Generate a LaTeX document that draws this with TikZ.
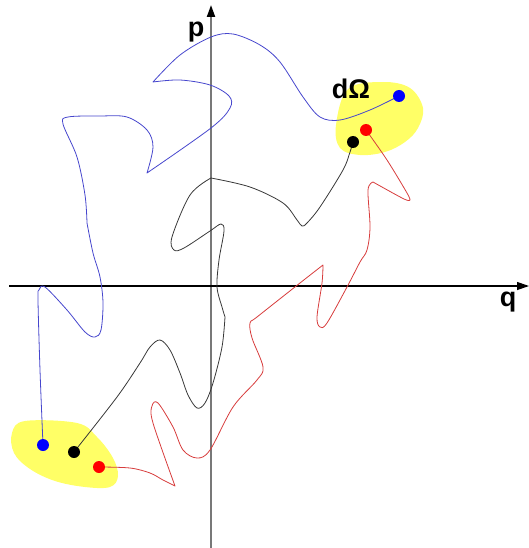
\documentclass[tikz,border=0pt]{standalone}
\usepackage{fontspec}
\setmainfont{Liberation Sans}
\usetikzlibrary{arrows.meta}
\pgfdeclarelayer{blobs}
\pgfdeclarelayer{curves}
\pgfsetlayers{blobs,curves,main}
\definecolor{blobyellow}{RGB}{255,255,102}
\definecolor{bluecurve}{RGB}{70,70,205}
\definecolor{redcurve}{RGB}{215,60,60}
\definecolor{blackcurve}{RGB}{55,55,55}
\definecolor{axisgray}{RGB}{120,120,120}
\tikzset{
  dot/.style={circle,inner sep=0pt,minimum size=12pt,draw=none},
  blob/.style={fill=blobyellow,draw=none},
  traj/.style={line width=0.8pt,smooth,tension=0.55,line join=round},
  lab/.style={font=\fontsize{27}{31}\selectfont\bfseries,inner sep=0pt},
  axistip/.style={-{Triangle[length=12pt,width=8pt,color=black]}}
}
\begin{document}
\begin{tikzpicture}[x=1pt,y=-1pt]
\useasboundingbox (0,0) rectangle (529,548);

% dots
\node[dot,fill=blue]  (b1) at (399,96) {};
\node[dot,fill=red]   (r1) at (366,130) {};
\node[dot,fill=black] (k1) at (353,142) {};
\node[dot,fill=blue]  (b2) at (43,445) {};
\node[dot,fill=black] (k2) at (74,452) {};
\node[dot,fill=red]   (r2) at (99,467) {};

% labels
\node[lab] (plab) at (196,32) {p};
\node[lab] (qlab) at (508,302) {q};
\node[lab] (dlab) at (351,89) {dΩ};

% axes endpoints
\coordinate (pbot) at (211,548);
\coordinate (ptop) at (211,5);
\coordinate (qleft) at (9,286);
\coordinate (qright) at (529,286);

\begin{pgfonlayer}{blobs}
\fill[blob] plot[smooth cycle,tension=0.6] coordinates {(348,89) (383,82) (410,88) (423,108) (418,128) (405,142) (385,152) (360,155) (340,148) (336,125)};
\fill[blob] plot[smooth cycle,tension=0.6] coordinates {(25,421) (77,423) (97,437) (113,458) (118,476) (110,487) (85,487) (55,481) (30,469) (14,453) (12,433)};
\end{pgfonlayer}

\begin{pgfonlayer}{curves}
\draw[axisgray,line width=2pt,axistip] (pbot) -- (ptop);
\draw[black,line width=1.2pt,axistip] (qleft) -- (qright);

% blue trajectory
\draw[traj,bluecurve]
  plot coordinates {(b1.center) (370,110) (340,120) (320,117) (303,97) (280,62) (260,45) (233,34) (211,37) (180,55) (153,82)}
  -- plot coordinates {(153,82) (180,80) (210,85) (229,96) (230,108) (211,128) (147,173)}
  -- plot coordinates {(147,173) (153,147) (147,130) (127,117) (100,116) (68,117) (63,124) (77,157) (85,195) (87,223)}
  -- plot coordinates {(87,223) (93,253) (100,277) (103,303) (101,330) (95,337) (85,332) (67,310) (45,287) (39,290) (38,300) (40,370) (b2.center)};

% black trajectory
\draw[traj,blackcurve]
  plot coordinates {(k1.center) (350,152) (343,170) (320,207) (307,223) (302,226) (297,220) (283,203) (250,187) (211,178)}
  -- plot coordinates {(211,178) (190,195) (172,237) (174,250) (184,248) (210,231) (221,224) (224,231) (219,260) (217,287) (222,307) (225,317)}
  -- plot coordinates {(225,317) (222,347) (213,383) (205,403) (197,408) (188,395) (180,373) (170,350) (160,340) (150,347) (140,363) (117,397) (k2.center)};

% red trajectory
\draw[traj,redcurve]
  plot coordinates {(r1.center) (387,160) (407,193) (410,200)}
  -- plot coordinates {(410,200) (404,199) (373,182)}
  -- plot coordinates {(373,182) (368,190) (370,227) (367,250) (360,262) (347,287) (327,323) (320,327) (317,317) (322,283) (323,265)}
  -- plot coordinates {(323,265) (300,283) (257,317) (250,323) (252,338) (263,367) (257,380) (233,407) (210,450) (197,458) (183,450) (173,427) (158,403) (152,406) (153,423) (175,486)}
  -- plot coordinates {(175,486) (163,480) (150,473) (130,468) (r2.center)};
\end{pgfonlayer}
\end{tikzpicture}
\end{document}
